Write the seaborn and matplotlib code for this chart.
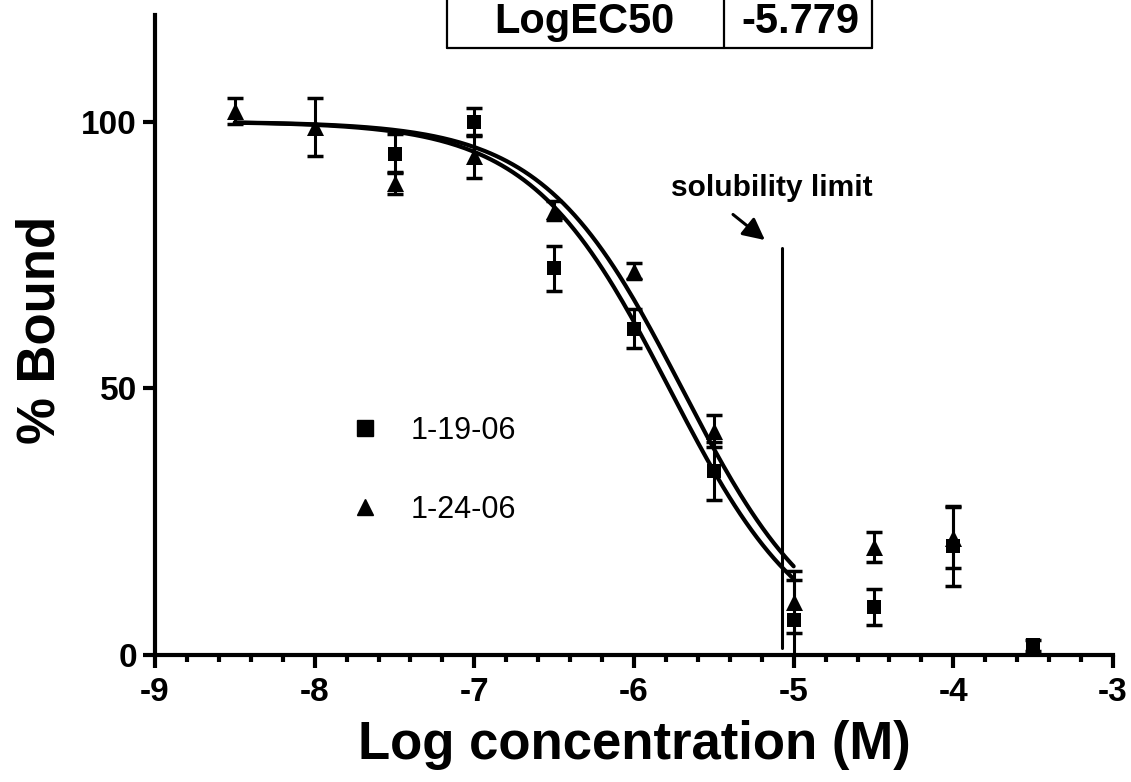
import numpy as np
import pandas as pd
import matplotlib.pyplot as plt
import seaborn as sns
from matplotlib.lines import Line2D

sns.set_theme(style="ticks")
plt.rcParams['font.family'] = ['Liberation Sans', 'DejaVu Sans']
plt.rcParams['axes.unicode_minus'] = False
plt.rcParams['text.color'] = 'black'
plt.rcParams['axes.labelcolor'] = 'black'

# 1-19-06 (squares)
x_sq = [-7.5, -7.0, -6.5, -6.0, -5.5, -5.0, -4.5, -4.0, -3.5]
y_sq = [94.0, 100.0, 72.5, 61.2, 34.5, 6.5, 9.0, 20.5, 1.8]
e_sq = [3.7, 2.6, 4.2, 3.7, 5.4, 7.5, 3.4, 7.5, 1.0]

# 1-24-06 (triangles)
x_tr = [-8.5, -8.0, -7.5, -7.0, -6.5, -6.0, -5.5, -5.0, -4.5, -4.0]
y_tr = [102.0, 99.0, 88.5, 93.5, 83.3, 72.0, 42.0, 10.0, 20.3, 22.0]
e_tr = [2.5, 5.5, 2.0, 4.0, 1.8, 1.5, 3.0, 5.8, 2.8, 5.7]

# sigmoid fit parameters (top, bottom, logEC50)
fit_top = 100.0
fit_bottom = 0.0
logec50_sq = -5.779
logec50_tr = -5.70
fit_range = (-8.5, -5.0)

solubility_x = -5.07
solubility_y = (1.3, 76.4)

fig = plt.figure(figsize=(11.31, 7.82), dpi=100)
ax = fig.add_axes([155/1131, 127/782, 958/1131, 640/782])

xf = np.linspace(fit_range[0], fit_range[1], 200)
curves = pd.concat([
    pd.DataFrame({'x': xf, 'y': fit_bottom + (fit_top - fit_bottom) / (1 + 10**(xf - logec50_sq)), 'set': '1-19-06'}),
    pd.DataFrame({'x': xf, 'y': fit_bottom + (fit_top - fit_bottom) / (1 + 10**(xf - logec50_tr)), 'set': '1-24-06'}),
])
sns.lineplot(data=curves, x='x', y='y', units='set', estimator=None, color='black', lw=3, ax=ax)

ax.errorbar(x_sq, y_sq, yerr=e_sq, fmt='none', ecolor='black', elinewidth=2.2, capsize=6, capthick=2.5)
ax.errorbar(x_tr, y_tr, yerr=e_tr, fmt='none', ecolor='black', elinewidth=2.2, capsize=6, capthick=2.5)
sns.scatterplot(x=x_sq, y=y_sq, marker='s', s=115, color='black', edgecolor='black', linewidth=0, ax=ax, zorder=5)
sns.scatterplot(x=x_tr, y=y_tr, marker='^', s=150, color='black', edgecolor='black', linewidth=0, ax=ax, zorder=5)

# solubility limit
ax.plot([solubility_x, solubility_x], solubility_y, color='black', lw=2.2)
ax.annotate('', xy=(-5.18, 77.8), xytext=(-5.38, 82.6),
            arrowprops=dict(arrowstyle='-|>,head_length=0.6,head_width=0.3', color='black', lw=2.2,
                            mutation_scale=22, shrinkA=0, shrinkB=0))
ax.text(-5.14, 87.6, 'solubility limit', ha='center', va='center', fontsize=21.5, fontweight='bold')

handles = [Line2D([], [], marker='s', ls='none', color='black', ms=11),
           Line2D([], [], marker='^', ls='none', color='black', ms=12)]
ax.legend(handles, ['1-19-06', '1-24-06'], loc='upper left', bbox_to_anchor=(0.2035, 0.374),
          frameon=False, fontsize=22, handlelength=1.0, handletextpad=1.0, labelspacing=1.6,
          borderpad=0, borderaxespad=0)

ax.set_xlim(-9, -3)
ax.set_ylim(0, 120)
sns.despine(ax=ax)
for s in ['left', 'bottom']:
    ax.spines[s].set_linewidth(3)
    ax.spines[s].set_color('black')
ax.set_xticks(np.arange(-9, -2, 1))
ax.set_xticks(np.arange(-9, -3, 0.2), minor=True)
ax.set_yticks([0, 50, 100])
ax.tick_params(axis='x', which='major', length=9, width=3, pad=7, labelsize=24, colors='black')
ax.tick_params(axis='x', which='minor', length=5, width=3, colors='black')
ax.tick_params(axis='y', which='major', length=9, width=3, pad=4, labelsize=24, colors='black')
for lab in ax.get_xticklabels() + ax.get_yticklabels():
    lab.set_fontweight('bold')

ax.set_xlabel('Log concentration (M)', fontsize=38, fontweight='bold')
ax.set_ylabel('% Bound', fontsize=38, fontweight='bold')
ax.xaxis.set_label_coords(0.5, -0.1016)
ax.yaxis.set_label_coords(-0.093, 0.508)

# LogEC50 table at the top
W, H = 1131, 782
def fx(px): return px / W
def fy(py): return 1 - py / H
for seg in [((447, 447), (-5, 48)), ((872, 872), (-5, 48)), ((724, 724), (-5, 48)), ((447, 872), (48, 48))]:
    fig.add_artist(Line2D([fx(p) for p in seg[0]], [fy(p) for p in seg[1]], color='black', lw=1.6))
fig.text(fx(584), fy(22), 'LogEC50', ha='center', va='center', fontsize=30, fontweight='bold')
fig.text(fx(800), fy(22), '-5.779', ha='center', va='center', fontsize=30, fontweight='bold')

fig.savefig('out.png', dpi=100, facecolor='white')
